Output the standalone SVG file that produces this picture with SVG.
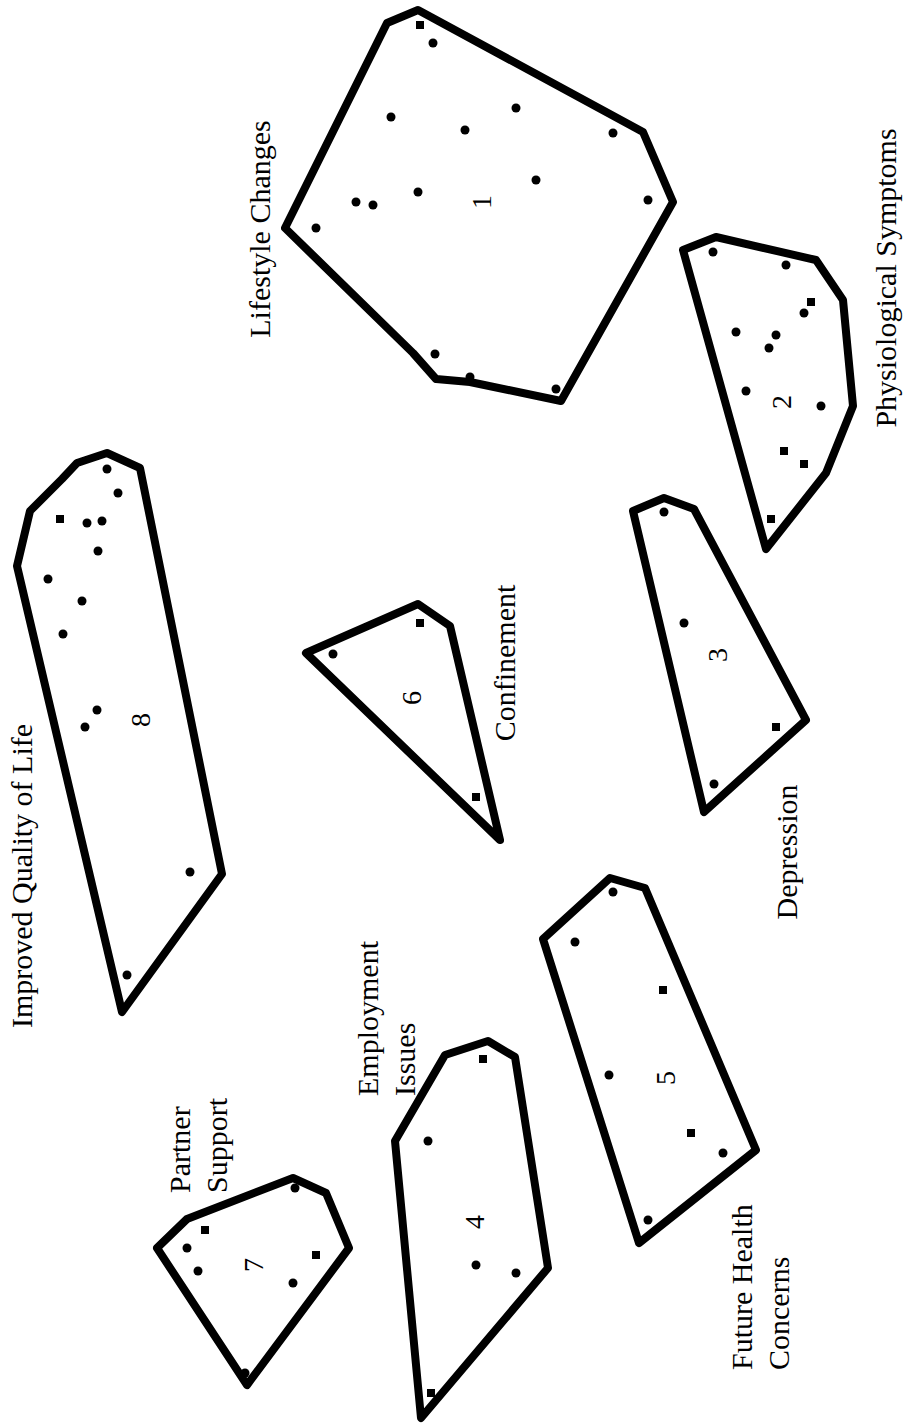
<svg xmlns="http://www.w3.org/2000/svg" width="909" height="1425" viewBox="0 0 909 1425">
<style>
.hull{fill:none;stroke:#000;stroke-width:8;stroke-linejoin:round}
.pt{fill:#000}
.lbl{font-family:"Liberation Serif","Times New Roman",serif;font-size:30px;fill:#000}
.num{font-family:"Liberation Serif","Times New Roman",serif;font-size:28px;fill:#000;text-anchor:middle}
.mid{text-anchor:middle}
</style>
<rect width="909" height="1425" fill="#fff"/>
<g id="connectors"></g>
<g id="cluster1">
<polygon class="hull" points="418,10 387,23 285,228 413,353 436,379 470,382 561,401 673,202 643,132"/>
<circle class="pt" cx="433" cy="43" r="4.5"/><rect class="pt" x="416" y="21" width="8" height="8"/>
<circle class="pt" cx="391" cy="117" r="4.5"/><circle class="pt" cx="465" cy="130" r="4.5"/>
<circle class="pt" cx="516" cy="108" r="4.5"/><circle class="pt" cx="536" cy="180" r="4.5"/>
<circle class="pt" cx="418" cy="192" r="4.5"/><circle class="pt" cx="356" cy="202" r="4.5"/>
<circle class="pt" cx="373" cy="205" r="4.5"/><circle class="pt" cx="316" cy="228" r="4.5"/>
<circle class="pt" cx="435" cy="354" r="4.5"/><circle class="pt" cx="470" cy="377" r="4.5"/>
<circle class="pt" cx="556" cy="389" r="4.5"/><circle class="pt" cx="613" cy="133" r="4.5"/>
<circle class="pt" cx="648" cy="200" r="4.5"/>
<text class="num" transform="translate(491,202) rotate(-90)">1</text>
<text class="lbl mid" transform="translate(270,229) rotate(-90)">Lifestyle Changes</text>
</g>
<g id="cluster2">
<polygon class="hull" points="683,250 716,237 816,260 843,300 853,406 826,473 766,549"/>
<circle class="pt" cx="713" cy="252" r="4.5"/><circle class="pt" cx="786" cy="265" r="4.5"/>
<rect class="pt" x="807" y="298" width="8" height="8"/><circle class="pt" cx="804" cy="313" r="4.5"/>
<circle class="pt" cx="736" cy="332" r="4.5"/><circle class="pt" cx="776" cy="335" r="4.5"/>
<circle class="pt" cx="769" cy="348" r="4.5"/><circle class="pt" cx="746" cy="391" r="4.5"/>
<circle class="pt" cx="821" cy="406" r="4.5"/><rect class="pt" x="780" y="447" width="8" height="8"/>
<rect class="pt" x="800" y="460" width="8" height="8"/><rect class="pt" x="767" y="515" width="8" height="8"/>
<text class="num" transform="translate(791,402) rotate(-90)">2</text>
<text class="lbl mid" transform="translate(896,278) rotate(-90)">Physiological Symptoms</text>
</g>
<g id="cluster3">
<polygon class="hull" points="633,511 664,498 694,509 806,720 704,812"/>
<circle class="pt" cx="664" cy="512" r="4.5"/><circle class="pt" cx="684" cy="623" r="4.5"/>
<rect class="pt" x="772" y="723" width="8" height="8"/><circle class="pt" cx="714" cy="784" r="4.5"/>
<text class="num" transform="translate(727,655) rotate(-90)">3</text>
<text class="lbl mid" transform="translate(797,852) rotate(-90)">Depression</text>
</g>
<g id="cluster4">
<polygon class="hull" points="395,1141 445,1055 488,1041 515,1057 548,1268 421,1418"/>
<rect class="pt" x="479" y="1055" width="8" height="8"/><circle class="pt" cx="428" cy="1141" r="4.5"/>
<circle class="pt" cx="476" cy="1265" r="4.5"/><circle class="pt" cx="516" cy="1273" r="4.5"/>
<rect class="pt" x="427" y="1389" width="8" height="8"/>
<text class="num" transform="translate(484,1222) rotate(-90)">4</text>
<text class="lbl" transform="translate(378,1096) rotate(-90)">Employment</text>
<text class="lbl" transform="translate(415,1096) rotate(-90)">Issues</text>
</g>
<g id="cluster5">
<polygon class="hull" points="543,939 610,878 645,888 756,1150 639,1243"/>
<circle class="pt" cx="575" cy="942" r="4.5"/><circle class="pt" cx="613" cy="892" r="4.5"/>
<rect class="pt" x="659" y="986" width="8" height="8"/><circle class="pt" cx="609" cy="1075" r="4.5"/>
<rect class="pt" x="687" y="1129" width="8" height="8"/><circle class="pt" cx="723" cy="1153" r="4.5"/>
<circle class="pt" cx="648" cy="1220" r="4.5"/>
<text class="num" transform="translate(675,1078) rotate(-90)">5</text>
<text class="lbl" transform="translate(752,1370) rotate(-90)">Future Health</text>
<text class="lbl" transform="translate(789,1370) rotate(-90)">Concerns</text>
</g>
<g id="cluster6">
<polygon class="hull" points="306,653 418,604 450,626 500,840"/>
<circle class="pt" cx="333" cy="654" r="4.5"/><rect class="pt" x="416" y="619" width="8" height="8"/>
<rect class="pt" x="472" y="793" width="8" height="8"/>
<text class="num" transform="translate(421,698) rotate(-90)">6</text>
<text class="lbl mid" transform="translate(515,663) rotate(-90)">Confinement</text>
</g>
<g id="cluster7">
<polygon class="hull" points="157,1248 187,1219 293,1178 326,1193 349,1248 247,1385"/>
<rect class="pt" x="201" y="1226" width="8" height="8"/><circle class="pt" cx="187" cy="1248" r="4.5"/>
<circle class="pt" cx="198" cy="1271" r="4.5"/><circle class="pt" cx="293" cy="1283" r="4.5"/>
<circle class="pt" cx="245" cy="1373" r="4.5"/><circle class="pt" cx="295" cy="1188" r="4.5"/>
<rect class="pt" x="312" y="1251" width="8" height="8"/>
<text class="num" transform="translate(263,1265) rotate(-90)">7</text>
<text class="lbl" transform="translate(190,1193) rotate(-90)">Partner</text>
<text class="lbl" transform="translate(227,1193) rotate(-90)">Support</text>
</g>
<g id="cluster8">
<polygon class="hull" points="107,453 140,468 222,874 122,1012 17,566 30,511 62,479 77,463"/>
<circle class="pt" cx="107" cy="469" r="4.5"/><circle class="pt" cx="118" cy="493" r="4.5"/>
<rect class="pt" x="56" y="515" width="8" height="8"/><circle class="pt" cx="87" cy="523" r="4.5"/>
<circle class="pt" cx="102" cy="521" r="4.5"/><circle class="pt" cx="98" cy="551" r="4.5"/>
<circle class="pt" cx="48" cy="579" r="4.5"/><circle class="pt" cx="82" cy="601" r="4.5"/>
<circle class="pt" cx="63" cy="634" r="4.5"/><circle class="pt" cx="97" cy="710" r="4.5"/>
<circle class="pt" cx="85" cy="727" r="4.5"/><circle class="pt" cx="190" cy="872" r="4.5"/>
<circle class="pt" cx="127" cy="975" r="4.5"/>
<text class="num" transform="translate(150,720) rotate(-90)">8</text>
<text class="lbl mid" transform="translate(32,876) rotate(-90)">Improved Quality of Life</text>
</g>
</svg>
